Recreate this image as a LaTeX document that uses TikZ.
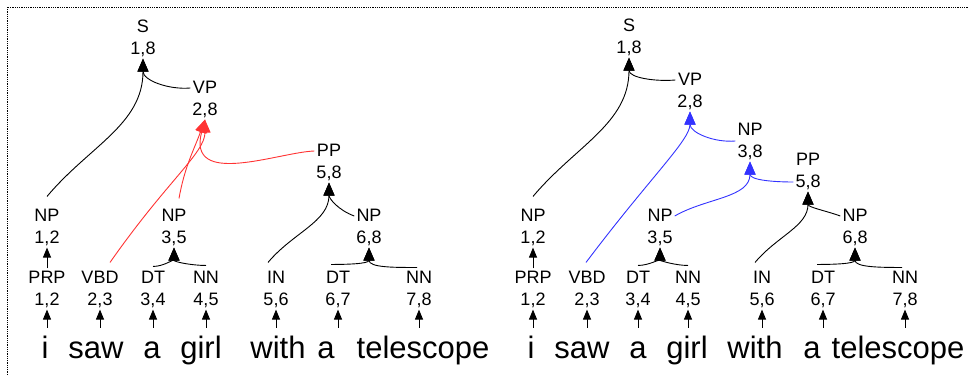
\documentclass[tikz,border=0pt]{standalone}
\usepackage{fontspec}
\setmainfont{Liberation Sans}
\usetikzlibrary{arrows.meta}
\definecolor{redparse}{RGB}{255,51,51}
\definecolor{blueparse}{RGB}{51,51,255}

\begin{document}
\begin{tikzpicture}[x=1pt, y=1pt, >={Triangle[length=13pt,width=11pt]},
  tag/.style={font=\fontsize{18}{22}\selectfont, align=center, inner sep=2pt},
  word/.style={font=\fontsize{31}{31}\selectfont, inner sep=0pt, anchor=base, text height=30pt},
  link/.style={->, line width=0.9pt},
  lex/.style={-{Triangle[length=10pt,width=8pt]}, line width=0.9pt}]
  \useasboundingbox (0,0) rectangle (968,-375);
  \clip (0,0) rectangle (968,-375);
  % Frame
  \draw[densely dotted, line width=0.8pt] (7,-7) rectangle (1000,-400);

  % Left parse: PP attached to VP
  \node[tag] (lS) at (143,-38) {S\\1,8};
  \node[tag] (lVP) at (205,-99) {VP\\2,8};
  \node[tag] (lPP) at (329,-162) {PP\\5,8};
  \node[tag] (lNPa) at (47,-227) {NP\\1,2};
  \node[tag] (lNPb) at (174,-227) {NP\\3,5};
  \node[tag] (lNPc) at (369,-227) {NP\\6,8};
  \node[tag] (lPRP) at (47,-289) {PRP\\1,2};
  \node[tag] (lVBD) at (100,-289) {VBD\\2,3};
  \node[tag] (lDTa) at (153,-289) {DT\\3,4};
  \node[tag] (lNNa) at (206,-289) {NN\\4,5};
  \node[tag] (lIN) at (276,-289) {IN\\5,6};
  \node[tag] (lDTb) at (338,-289) {DT\\6,7};
  \node[tag] (lNNb) at (419,-289) {NN\\7,8};
  \node[word] (lw1) at (45,-358) {i};
  \node[word] (lw2) at (96,-358) {saw};
  \node[word] (lw3) at (152,-358) {a};
  \node[word] (lw4) at (201,-358) {girl};
  \node[word] (lw5) at (278,-358) {with};
  \node[word] (lw6) at (326,-358) {a};
  \node[word] (lw7) at (423,-358) {telescope};
  \foreach \w/\p in {lw1/lPRP, lw2/lVBD, lw3/lDTa, lw4/lNNa, lw5/lIN, lw6/lDTb, lw7/lNNb}
    \draw[lex] (\p.south |- \w.north) -- (\p.south);
  \draw[lex] (lPRP.north) -- (lNPa.south);
  \draw[link] ([yshift=10pt]lNPa.north) to[out=50, in=-90] (lS.south);
  \draw[link] ([yshift=11pt]lVP.west) to[out=185, in=-90] (lS.south);
  \draw[link, redparse] ([xshift=10pt,yshift=6pt]lVBD.north) to[out=55, in=-90, out looseness=1.5, in looseness=0.5] (lVP.south);
  \draw[link, redparse] ([xshift=5pt,yshift=8pt]lNPb.north) to[out=80, in=-110] (lVP.south);
  \draw[link, redparse] ([yshift=11pt]lPP.west) to[out=182, in=-105, out looseness=0.8, in looseness=1.6] (lVP.south);
  \draw[link] ([xshift=-8pt,yshift=6pt]lIN.north) to[out=50, in=-90] (lPP.south);
  \draw[link] ([yshift=11pt]lNPc.west) to[out=160, in=-90] (lPP.south);
  \draw[link] ([yshift=2pt]lDTa.north) to[out=0, in=-90] (lNPb.south);
  \draw[link] ([yshift=3pt]lNNa.north) to[out=180, in=-90] (lNPb.south);
  \draw[link] ([xshift=-7pt,yshift=4pt]lDTb.north) to[out=0, in=-90] (lNPc.south);
  \draw[link] ([xshift=-2pt,yshift=1pt]lNNb.north) to[out=180, in=-90] (lNPc.south);

  % Right parse: PP attached to NP
  \node[tag] (rS) at (629,-37) {S\\1,8};
  \node[tag] (rVP) at (690,-91) {VP\\2,8};
  \node[tag] (rNPd) at (750,-141) {NP\\3,8};
  \node[tag] (rPP) at (808,-171) {PP\\5,8};
  \node[tag] (rNPa) at (533,-227) {NP\\1,2};
  \node[tag] (rNPb) at (660,-227) {NP\\3,5};
  \node[tag] (rNPc) at (855,-227) {NP\\6,8};
  \node[tag] (rPRP) at (533,-289) {PRP\\1,2};
  \node[tag] (rVBD) at (587,-289) {VBD\\2,3};
  \node[tag] (rDTa) at (638,-289) {DT\\3,4};
  \node[tag] (rNNa) at (688,-289) {NN\\4,5};
  \node[tag] (rIN) at (762,-289) {IN\\5,6};
  \node[tag] (rDTb) at (823,-289) {DT\\6,7};
  \node[tag] (rNNb) at (905,-289) {NN\\7,8};
  \node[word] (rw1) at (531,-358) {i};
  \node[word] (rw2) at (582,-358) {saw};
  \node[word] (rw3) at (638,-358) {a};
  \node[word] (rw4) at (687,-358) {girl};
  \node[word] (rw5) at (755,-358) {with};
  \node[word] (rw6) at (812,-358) {a};
  \node[word] (rw7) at (898,-358) {telescope};
  \foreach \w/\p in {rw1/rPRP, rw2/rVBD, rw3/rDTa, rw4/rNNa, rw5/rIN, rw6/rDTb, rw7/rNNb}
    \draw[lex] (\p.south |- \w.north) -- (\p.south);
  \draw[lex] (rPRP.north) -- (rNPa.south);
  \draw[link] ([yshift=10pt]rNPa.north) to[out=50, in=-90] (rS.south);
  \draw[link] ([yshift=11pt]rVP.west) to[out=185, in=-90] (rS.south);
  \draw[link, blueparse] ([xshift=-1pt,yshift=6pt]rVBD.north) to[out=53, in=-90, out looseness=1.5, in looseness=0.4] (rVP.south);
  \draw[link, blueparse] (rNPd.west) to[out=185, in=-90] (rVP.south);
  \draw[link, blueparse] ([yshift=11pt]rNPb.east) to[out=30, in=-90] (rNPd.south);
  \draw[link, blueparse] ([yshift=-11pt]rPP.west) to[out=180, in=-90] (rNPd.south);
  \draw[link] ([xshift=-7pt,yshift=6pt]rIN.north) to[out=50, in=-90] (rPP.south);
  \draw[link] ([yshift=11pt]rNPc.west) to[out=160, in=-90] (rPP.south);
  \draw[link] ([yshift=3pt]rDTa.north) to[out=0, in=-90] (rNPb.south);
  \draw[link] ([yshift=3pt]rNNa.north) to[out=180, in=-90] (rNPb.south);
  \draw[link] ([xshift=-6pt,yshift=4pt]rDTb.north) to[out=0, in=-90] (rNPc.south);
  \draw[link] ([xshift=-3pt,yshift=1pt]rNNb.north) to[out=180, in=-90] (rNPc.south);
\end{tikzpicture}
\end{document}
